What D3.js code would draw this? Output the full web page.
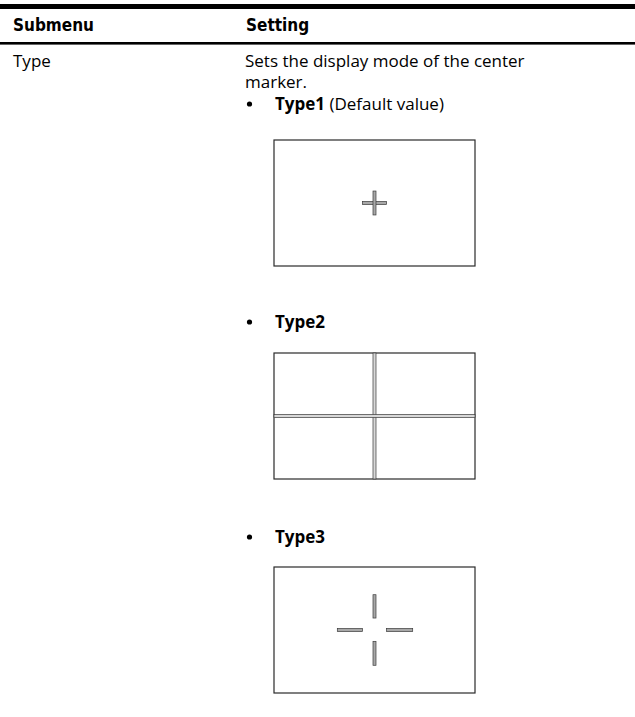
<!DOCTYPE html>
<html><head><meta charset="utf-8">
<script src="https://cdn.jsdelivr.net/npm/d3@7"></script>
<style>html,body{margin:0;padding:0;background:#fff;}svg{display:block;}</style>
</head><body>
<script>
// ---- data ----
const headers = ["Submenu", "Setting"];
const submenu = "Type";
const descLines = ["Sets the display mode of the center", "marker."];
const types = ["Type1", "Type2", "Type3"];
const typeNotes = [" (Default value)", "", ""];
// marker segments in frame-normalized units [x1,y1,x2,y2]
const markers = [
  [[0.44, 0.5, 0.56, 0.5], [0.5, 0.405, 0.5, 0.595]],
  [[0.5, 0, 0.5, 1], [0, 0.5, 1, 0.5]],
  [[0.5, 0.22, 0.5, 0.405], [0.5, 0.59, 0.5, 0.78], [0.315, 0.5, 0.44, 0.5], [0.56, 0.5, 0.69, 0.5]]
];

const W = 635, H = 717;
const svg = d3.select("body").append("svg").attr("width", W).attr("height", H);

// table rules
svg.append("rect").attr("x", 0).attr("y", 4).attr("width", W).attr("height", 5).attr("fill", "#000");
svg.append("rect").attr("x", 0).attr("y", 42).attr("width", W).attr("height", 2.6).attr("fill", "#000");

const colX = [13, 246];
svg.selectAll("text.hdr").data(headers).join("text").attr("class", "hdr")
  .attr("x", (d, i) => colX[i]).attr("y", 31)
  .attr("font-family", "DejaVu Sans Condensed, DejaVu Sans").attr("font-stretch", "condensed")
  .attr("font-weight", "bold").attr("font-size", 17).attr("fill", "#000").text(d => d);

const body = {family: "Open Sans", size: 17};
svg.append("text").attr("x", 13).attr("y", 67)
  .attr("font-family", body.family).attr("font-size", body.size).attr("fill", "#000").text(submenu);

svg.selectAll("text.desc").data(descLines).join("text").attr("class", "desc")
  .attr("x", 245).attr("y", (d, i) => 67 + i * 21)
  .attr("font-family", body.family).attr("font-size", body.size).attr("fill", "#000").text(d => d);

const bulletY = [110, 328, 543];
const boxTop = [140, 353, 567];
const boxW = 201, boxH = 126;
const bx0 = 274;

types.forEach((t, i) => {
  svg.append("circle").attr("cx", 249.5).attr("cy", bulletY[i] - 6).attr("r", 2.6).attr("fill", "#000");
  const tx = svg.append("text").attr("x", 275).attr("y", bulletY[i])
    .attr("font-family", body.family).attr("font-size", body.size).attr("fill", "#000");
  tx.append("tspan").attr("font-weight", "bold").text(t);
  if (typeNotes[i]) tx.append("tspan").text(typeNotes[i]);

  const xs = d3.scaleLinear().domain([0, 1]).range([bx0, bx0 + boxW]);
  const ys = d3.scaleLinear().domain([0, 1]).range([boxTop[i], boxTop[i] + boxH]);
  const g = svg.append("g");
  g.append("rect").attr("x", xs(0)).attr("y", ys(0)).attr("width", boxW).attr("height", boxH)
    .attr("fill", "#fff").attr("stroke", "#2a2a2a").attr("stroke-width", 1.2);
  markers[i].forEach(s => {
    const x1 = xs(s[0]), y1 = ys(s[1]), x2 = xs(s[2]), y2 = ys(s[3]);
    const th = 3;
    const rx = Math.min(x1, x2) - (x1 === x2 ? th / 2 : 0);
    const ry = Math.min(y1, y2) - (y1 === y2 ? th / 2 : 0);
    const rw = x1 === x2 ? th : Math.abs(x2 - x1);
    const rh = y1 === y2 ? th : Math.abs(y2 - y1);
    g.append("rect").attr("x", rx).attr("y", ry).attr("width", rw).attr("height", rh)
      .attr("fill", i === 1 ? "#d8d8d8" : "#a8a8a8").attr("stroke", "#3a3a3a").attr("stroke-width", 0.7);
  });
});
</script>
</body></html>
